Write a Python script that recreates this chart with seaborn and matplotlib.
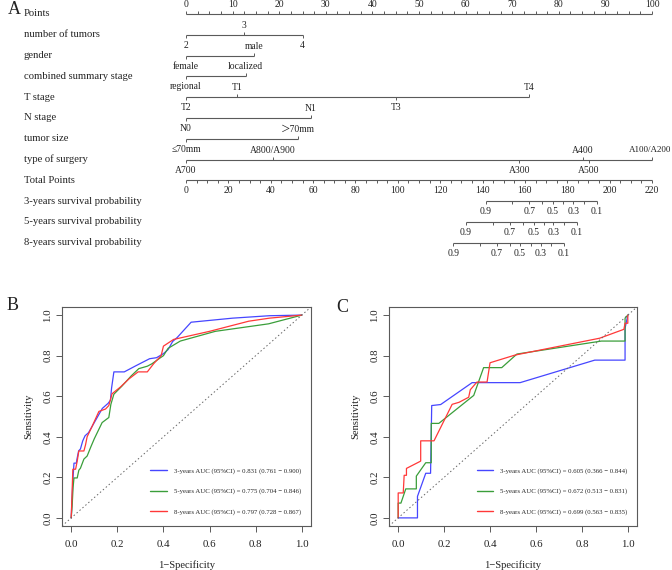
import numpy as np
import pandas as pd
import matplotlib
matplotlib.use("Agg")
import matplotlib.pyplot as plt
import seaborn as sns

# ---------------- data ----------------
row_labels = ["Points", "number of tumors", "gender", "combined summary stage",
              "T stage", "N stage", "tumor size", "type of surgery", "Total Points",
              "3-years survival probability", "5-years survival probability",
              "8-years survival probability"]

tumors_levels = ["2", "3", "4"]
tumors_pts = [0, 12.5, 25.0]
gender_levels = ["female", "male"]
gender_pts = [0, 14.6]
stage_levels = ["regional", "localized"]
stage_pts = [0, 12.8]
t_levels = ["T2", "T1", "T3", "T4"]
t_pts = [0, 10.9, 45.0, 73.6]
n_levels = ["N0", "N1"]
n_pts = [0, 26.8]
size_levels = ["≤70mm", "＞70mm"]
size_pts = [0, 24.0]
surg_levels = ["A700", "A800/A900", "A300", "A400", "A500", "A100/A200"]
surg_pts = [0, 18.7, 71.5, 85.2, 86.5, 100.0]

points_max = 100
total_max = 220

surv_probs = [0.9, 0.8, 0.7, 0.6, 0.5, 0.4, 0.3, 0.2, 0.1]
surv_labeled = [0.9, 0.7, 0.5, 0.3, 0.1]
surv3_tp = [141.6, 153.7, 162.0, 168.3, 173.3, 178.1, 182.8, 187.9, 193.8]
surv5_tp = [132.2, 145.1, 153.0, 159.3, 164.3, 169.0, 173.4, 178.6, 184.4]
surv8_tp = [126.2, 138.8, 146.7, 153.0, 157.7, 162.7, 167.4, 172.3, 178.5]

# ROC panel B (training)
b3_fpr = [0, 0.003, 0.008, 0.012, 0.022, 0.025, 0.032, 0.04, 0.05, 0.06, 0.075, 0.09, 0.11,
          0.135, 0.16, 0.17, 0.175, 0.185, 0.23, 0.28, 0.34, 0.37, 0.40, 0.42, 0.44, 0.46,
          0.52, 0.70, 0.86, 1.0]
b3_tpr = [0, 0.08, 0.2, 0.27, 0.27, 0.29, 0.33, 0.34, 0.38, 0.405, 0.42, 0.45, 0.49,
          0.54, 0.565, 0.58, 0.64, 0.72, 0.72, 0.75, 0.785, 0.79, 0.81, 0.83, 0.87, 0.89,
          0.965, 0.985, 0.997, 1.0]
b5_fpr = [0, 0.004, 0.008, 0.012, 0.026, 0.033, 0.04, 0.055, 0.069, 0.085, 0.10, 0.134,
          0.163, 0.172, 0.185, 0.22, 0.26, 0.293, 0.33, 0.35, 0.387, 0.40, 0.42, 0.473,
          0.625, 0.856, 1.0]
b5_tpr = [0, 0.06, 0.15, 0.197, 0.197, 0.235, 0.245, 0.29, 0.305, 0.35, 0.39, 0.47,
          0.495, 0.56, 0.61, 0.65, 0.70, 0.736, 0.748, 0.76, 0.79, 0.80, 0.836, 0.872,
          0.92, 0.957, 1.0]
b8_fpr = [0, 0.003, 0.007, 0.019, 0.026, 0.033, 0.055, 0.062, 0.069, 0.09, 0.12, 0.149,
          0.163, 0.177, 0.213, 0.25, 0.29, 0.33, 0.358, 0.39, 0.40, 0.444, 0.60, 0.77,
          0.86, 1.0]
b8_tpr = [0, 0.1, 0.24, 0.24, 0.28, 0.33, 0.33, 0.36, 0.40, 0.45, 0.525, 0.537,
          0.554, 0.612, 0.645, 0.685, 0.72, 0.72, 0.761, 0.80, 0.847, 0.88, 0.92, 0.97,
          0.985, 1.0]

# ROC panel C (validation)
c3_fpr = [0, 0.084, 0.084, 0.12, 0.141, 0.146, 0.185, 0.322, 0.531, 0.856, 0.988, 0.988, 1.0]
c3_tpr = [0, 0, 0.106, 0.22, 0.22, 0.554, 0.559, 0.667, 0.667, 0.778, 0.778, 0.935, 1.0]
c5_fpr = [0, 0, 0.012, 0.033, 0.079, 0.079, 0.12, 0.144, 0.144, 0.177, 0.329, 0.372,
          0.451, 0.517, 0.885, 0.988, 0.988, 1.0]
c5_tpr = [0, 0.073, 0.073, 0.143, 0.143, 0.206, 0.272, 0.272, 0.466, 0.466, 0.604, 0.741,
          0.741, 0.808, 0.872, 0.872, 0.985, 1.0]
c8_fpr = [0, 0, 0.022, 0.026, 0.036, 0.036, 0.098, 0.098, 0.156, 0.235, 0.265, 0.307,
          0.314, 0.343, 0.387, 0.40, 0.509, 0.877, 0.983, 0.988, 1.0, 1.0]
c8_tpr = [0, 0.123, 0.123, 0.21, 0.21, 0.244, 0.28, 0.38, 0.38, 0.56, 0.57, 0.595,
          0.632, 0.67, 0.67, 0.765, 0.803, 0.886, 0.93, 0.96, 0.96, 1.0]

b_labels = ["3-years AUC (95%CI) = 0.831 (0.761 − 0.900)",
            "5-years AUC (95%CI) = 0.775 (0.704 − 0.846)",
            "8-years AUC (95%CI) = 0.797 (0.728 − 0.867)"]
c_labels = ["3-years AUC (95%CI) = 0.605 (0.366 − 0.844)",
            "5-years AUC (95%CI) = 0.672 (0.513 − 0.831)",
            "8-years AUC (95%CI) = 0.699 (0.563 − 0.835)"]

roc_colors = ["#4646FF", "#3A9E3A", "#FF3838"]

# ---------------- style ----------------
sns.set_theme(style="ticks")
plt.rcParams["font.family"] = ["Liberation Serif", "Noto Sans CJK SC"]
plt.rcParams["axes.unicode_minus"] = True

W, H = 672, 570
fig = plt.figure(figsize=(W / 100, H / 100), dpi=100)

LINE_C = "#5a5a5a"
TXT_C = "#222222"

# ---------------- panel A : nomogram ----------------
x0_px, x1_px = 186, 652
px_per_pt = (x1_px - x0_px) / points_max
row0_px, row_step = 14, 20.8
top_h = 262
axA = fig.add_axes([0, 1 - top_h / H, 1, top_h / H])
axA.set_xlim(-x0_px / px_per_pt, (W - x0_px) / px_per_pt)
axA.set_ylim((top_h - row0_px) / row_step, -row0_px / row_step)
axA.axis("off")

tick_len = 3 / row_step
lab_up = 9.5 / row_step
lab_dn = 10.5 / row_step
fs_lab = 7.7
fs_tick = 6.9

for i, lab in enumerate(row_labels):
    axA.text(24 / W, i, lab, transform=axA.get_yaxis_transform(), ha="left",
             va="center", fontsize=fs_lab, color=TXT_C)

def scale_axis(row, minor, up):
    vals = list(minor)
    axA.hlines(row, min(vals), max(vals), color=LINE_C, lw=0.8)
    d = -tick_len if up else tick_len
    axA.vlines(vals, row, row + d, color=LINE_C, lw=0.7)

# Points axis
pt_minor = np.arange(0, points_max + 0.01, 2.5)
pt_major = np.arange(0, points_max + 1, 10)
scale_axis(0, pt_minor, True)
for v in pt_major:
    axA.text(v, 0 - lab_up, f"{v:g}", ha="center", va="center", fontsize=fs_tick, color=TXT_C)

def variable_row(row, levels, pts):
    axA.hlines(row, min(pts), max(pts), color=LINE_C, lw=0.8)
    order = np.argsort(pts, kind="stable")
    for k, idx in enumerate(order):
        up = (k % 2 == 1)
        d = -tick_len if up else tick_len
        axA.vlines(pts[idx], row, row + d, color=LINE_C, lw=0.7)
        t = axA.text(pts[idx], row - lab_up if up else row + lab_dn, levels[idx],
                     ha="center", va="center", fontsize=fs_tick, color=TXT_C)
        if pts[idx] >= points_max:
            # keep the right-most label inside the figure
            t.set_ha("right")
            t.set_x(points_max + 19 / px_per_pt)
            t.set_fontsize(fs_tick - 0.4)

variable_row(1, tumors_levels, tumors_pts)
variable_row(2, gender_levels, gender_pts)
variable_row(3, stage_levels, stage_pts)
variable_row(4, t_levels, t_pts)
variable_row(5, n_levels, n_pts)
variable_row(6, size_levels, size_pts)
variable_row(7, surg_levels, surg_pts)

# Total points axis (converted to the points scale)
conv = points_max / total_max
tp_minor = np.arange(0, total_max + 0.01, 5)
tp_major = np.arange(0, total_max + 1, 20)
scale_axis(8, tp_minor * conv, False)
for v in tp_major:
    axA.text(v * conv, 8 + lab_dn, f"{v:g}", ha="center", va="center", fontsize=fs_tick, color=TXT_C)

for row, tps in zip([9, 10, 11], [surv3_tp, surv5_tp, surv8_tp]):
    xs = np.array(tps) * conv
    scale_axis(row, xs, False)
    for p, x in zip(surv_probs, xs):
        if p in surv_labeled:
            axA.text(x, row + lab_dn, f"{p:g}", ha="center", va="center",
                     fontsize=fs_tick, color=TXT_C)

fig.text(14 / W, 1 - 10 / H, "A", ha="center", va="center", fontsize=13, color=TXT_C)

# ---------------- panels B, C : ROC ----------------
def roc_panel(rect, curves, labels, letter, letter_xy):
    ax = fig.add_axes(rect)
    frames = []
    for (fpr, tpr), lab in zip(curves, labels):
        frames.append(pd.DataFrame({"fpr": fpr, "tpr": tpr, "model": lab}))
    df = pd.concat(frames, ignore_index=True)
    sns.lineplot(data=df, x="fpr", y="tpr", hue="model", palette=roc_colors,
                 sort=False, estimator=None, linewidth=0.9, ax=ax, legend=False)
    ax.axline((0, 0), slope=1, color="#666666", lw=0.7, ls=(0, (1.5, 2.5)))
    ax.set_xlim(-0.04, 1.04)
    ax.set_ylim(-0.04, 1.04)
    ticks = [0.0, 0.2, 0.4, 0.6, 0.8, 1.0]
    ax.set_xticks(ticks)
    ax.set_yticks(ticks)
    ax.set_xticklabels([f"{t:.1f}" for t in ticks], fontsize=7.8, color=TXT_C)
    ax.set_yticklabels([f"{t:.1f}" for t in ticks], fontsize=7.8, color=TXT_C,
                       rotation=90, va="center")
    ax.tick_params(axis="x", length=4, width=0.7, color=LINE_C, pad=6)
    ax.tick_params(axis="y", length=4, width=0.7, color=LINE_C, pad=3)
    for s in ax.spines.values():
        s.set_visible(True)
        s.set_color(LINE_C)
        s.set_linewidth(0.8)
    ax.set_xlabel("1−Specificity", fontsize=7.6, color=TXT_C, labelpad=8)
    ax.set_ylabel("Sensitivity", fontsize=7.6, color=TXT_C, labelpad=7)
    handles = [plt.Line2D([], [], color=c, lw=1.0) for c in roc_colors]
    ax.legend(handles, labels, loc="center left", bbox_to_anchor=(0.34, 0.158),
              frameon=False, fontsize=4.9, handlelength=2.45, handletextpad=1.0,
              labelspacing=2.15, borderpad=0)
    fig.text(letter_xy[0] / W, 1 - letter_xy[1] / H, letter, ha="center", va="center",
             fontsize=13, color=TXT_C)
    return ax

rectB = [62 / W, (H - 526) / H, 249 / W, 219 / H]
rectC = [389 / W, (H - 526) / H, 248 / W, 219 / H]
roc_panel(rectB, [(b3_fpr, b3_tpr), (b5_fpr, b5_tpr), (b8_fpr, b8_tpr)], b_labels,
          "B", (13, 305))
roc_panel(rectC, [(c3_fpr, c3_tpr), (c5_fpr, c5_tpr), (c8_fpr, c8_tpr)], c_labels,
          "C", (342, 307))

fig.savefig("out.png", dpi=100)
